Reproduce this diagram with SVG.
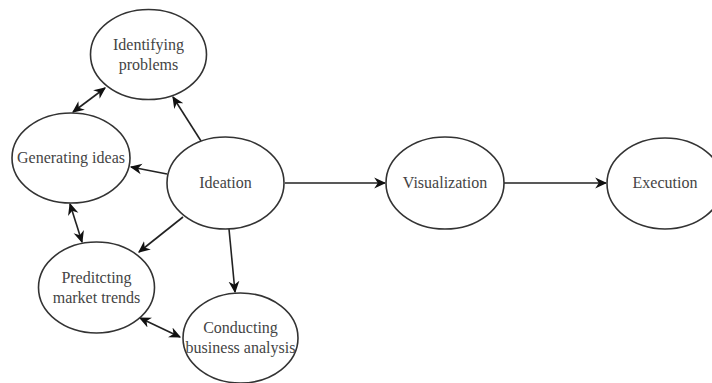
<svg xmlns="http://www.w3.org/2000/svg" width="712" height="383" viewBox="0 0 712 383">
<defs>
<marker id="ah" viewBox="0 0 10 10" refX="9" refY="5" markerWidth="12" markerHeight="12" markerUnits="userSpaceOnUse" orient="auto-start-reverse">
<path d="M0,0.5 L10,5 L0,9.5 L3,5 Z" fill="#111"/>
</marker>
<style>
.n ellipse{fill:#fff;stroke:#333;stroke-width:1.6}
.n text{font-size:16px;fill:#444;text-anchor:middle}
.c line{stroke:#222;stroke-width:1.6;marker-end:url(#ah)}
.c line.b{marker-start:url(#ah)}
</style>
</defs>
<rect width="712" height="383" fill="#fff"/>
<g class="c" id="connectors">
<line x1="201" y1="141" x2="173" y2="97"/>
<line x1="167" y1="174" x2="131" y2="167"/>
<line x1="183" y1="217" x2="139" y2="252"/>
<line x1="229" y1="229" x2="235" y2="292"/>
<line x1="285" y1="183" x2="385" y2="183"/>
<line x1="504" y1="183" x2="606" y2="183"/>
<line class="b" x1="73" y1="112" x2="105" y2="88"/>
<line class="b" x1="70" y1="204" x2="82" y2="242"/>
<line class="b" x1="140" y1="318" x2="180" y2="337"/>
</g>
<g class="n" id="identifying" font-family="'Liberation Serif', 'DejaVu Serif', serif">
<ellipse cx="148.5" cy="54.5" rx="58" ry="45"/>
<text x="148.5" y="50">Identifying</text>
<text x="148.5" y="70">problems</text>
</g>
<g class="n" id="generating" font-family="'Liberation Serif', 'DejaVu Serif', serif">
<ellipse cx="71" cy="158" rx="59" ry="45"/>
<text x="71" y="163">Generating ideas</text>
</g>
<g class="n" id="ideation" font-family="'Liberation Serif', 'DejaVu Serif', serif">
<ellipse cx="225.5" cy="183" rx="58.5" ry="46"/>
<text x="225.5" y="188">Ideation</text>
</g>
<g class="n" id="predicting" font-family="'Liberation Serif', 'DejaVu Serif', serif">
<ellipse cx="96.5" cy="287.5" rx="58" ry="45.5"/>
<text x="96.5" y="283">Preditcting</text>
<text x="96.5" y="303">market trends</text>
</g>
<g class="n" id="conducting" font-family="'Liberation Serif', 'DejaVu Serif', serif">
<ellipse cx="240.5" cy="338" rx="57.5" ry="45"/>
<text x="240.5" y="333">Conducting</text>
<text x="240.5" y="353">business analysis</text>
</g>
<g class="n" id="visualization" font-family="'Liberation Serif', 'DejaVu Serif', serif">
<ellipse cx="445" cy="183" rx="59" ry="46"/>
<text x="445" y="188">Visualization</text>
</g>
<g class="n" id="execution" font-family="'Liberation Serif', 'DejaVu Serif', serif">
<ellipse cx="665" cy="183.5" rx="58" ry="45.5"/>
<text x="665" y="188">Execution</text>
</g>
</svg>
